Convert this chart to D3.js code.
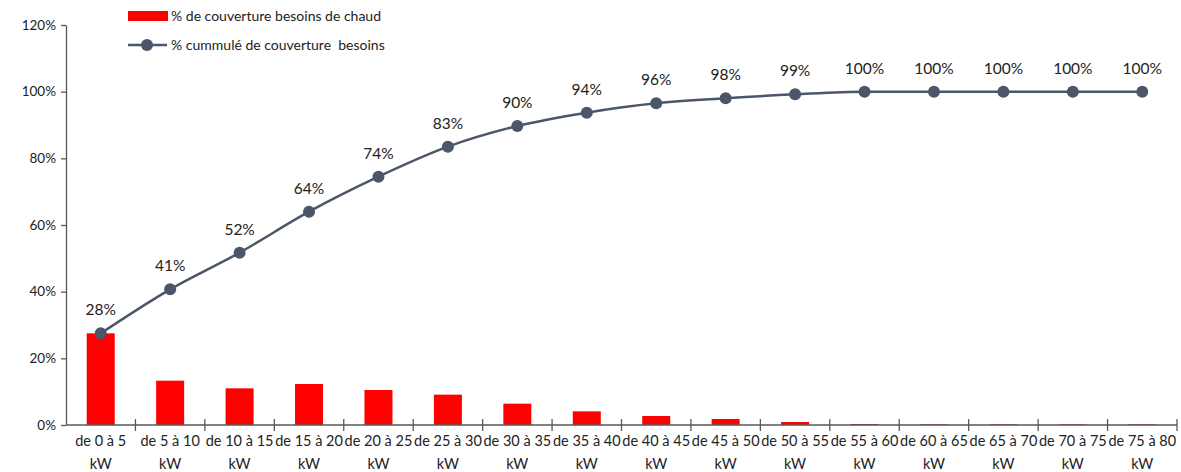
<!DOCTYPE html>
<html><head><meta charset="utf-8">
<script src="https://cdn.jsdelivr.net/npm/d3@7"></script>
<style>
body{margin:0;background:#fff;}
text{font-family:Lato,"Open Sans",sans-serif;fill:#222;}
</style></head>
<body><svg id="c" width="1181" height="472"></svg>
<script>
const categories = ["de 0 à 5","de 5 à 10","de 10 à 15","de 15 à 20","de 20 à 25","de 25 à 30","de 30 à 35","de 35 à 40","de 40 à 45","de 45 à 50","de 50 à 55","de 55 à 60","de 60 à 65","de 65 à 70","de 70 à 75","de 75 à 80"];
const unitLabel = "kW";
const barValues = [27.5, 13.3, 11.0, 12.3, 10.5, 9.1, 6.4, 4.1, 2.7, 1.8, 0.9, 0.3, 0.2, 0.2, 0.2, 0.2];
const cumValues = [27.5, 40.7, 51.7, 64.0, 74.5, 83.5, 89.7, 93.7, 96.5, 98.0, 99.2, 100, 100, 100, 100, 100];
const cumLabels = ["28%","41%","52%","64%","74%","83%","90%","94%","96%","98%","99%","100%","100%","100%","100%","100%"];
const yTicks = [0,20,40,60,80,100,120];
const seriesNames = ["% de couverture besoins de chaud","% cummulé de couverture  besoins"];

(function(){
const svg = d3.select("#c");
const mLeft = 66, mRight = 1177, mTop = 25, mBottom = 425;
const x = d3.scaleBand().domain(categories).range([mLeft,mRight]).paddingInner(0).paddingOuter(0);
const y = d3.scaleLinear().domain([0,120]).range([mBottom,mTop]);
const axisCol = "#595959", lineCol = "#4b5668";

// y axis
const ya = svg.append("g").attr("transform",`translate(${mLeft},0)`)
  .call(d3.axisLeft(y).tickValues(yTicks).tickFormat(d=>d+"%").tickSize(5).tickSizeOuter(0));
ya.select(".domain").attr("stroke",axisCol).attr("stroke-width",1.3);
ya.selectAll(".tick line").attr("stroke",axisCol).attr("stroke-width",1.3);
ya.selectAll(".tick text").attr("x",-10).style("font-size","13.5px").style("font-family","Lato,'Open Sans',sans-serif").attr("fill","#222");

// bars
svg.append("g").selectAll("rect").data(barValues).join("rect")
  .attr("x",(d,i)=>x(categories[i])+x.bandwidth()/2-14)
  .attr("width",28)
  .attr("y",d=>y(d))
  .attr("height",d=>mBottom-y(d))
  .attr("fill",(d,i)=> d<0.5 ? "#c02020" : "#ff0000");

// x axis
const xa = svg.append("g");
xa.append("line").attr("x1",mLeft).attr("x2",mRight).attr("y1",mBottom).attr("y2",mBottom).attr("stroke",axisCol).attr("stroke-width",1.3);
const bounds = categories.map(c=>x(c)).concat([mRight]);
xa.selectAll("line.t").data(bounds.slice(1)).join("line").attr("class","t")
  .attr("x1",d=>d).attr("x2",d=>d).attr("y1",mBottom-6).attr("y2",mBottom+6)
  .attr("stroke",axisCol).attr("stroke-width",1.3);
const xl = xa.selectAll("text").data(categories).join("text")
  .attr("text-anchor","middle").style("font-size","14.5px")
  .attr("transform",c=>`translate(${x(c)+x.bandwidth()/2},0)`);
xl.append("tspan").attr("x",0).attr("y",446).text(d=>d);
xl.append("tspan").attr("x",0).attr("y",469).text(unitLabel);

// line
const cx = (i)=>x(categories[i])+x.bandwidth()/2;
svg.append("path").datum(cumValues)
  .attr("d",d3.line().x((d,i)=>cx(i)).y(d=>y(d)).curve(d3.curveMonotoneX))
  .attr("fill","none").attr("stroke",lineCol).attr("stroke-width",2.5);
svg.append("g").selectAll("circle").data(cumValues).join("circle")
  .attr("cx",(d,i)=>cx(i)).attr("cy",d=>y(d)).attr("r",6).attr("fill",lineCol);
svg.append("g").selectAll("text").data(cumLabels).join("text")
  .attr("x",(d,i)=>cx(i)).attr("y",(d,i)=>y(cumValues[i])-18)
  .attr("text-anchor","middle").style("font-size","15.5px").text(d=>d);

// legend
const lg = svg.append("g");
lg.append("rect").attr("x",128).attr("y",11).attr("width",40).attr("height",10).attr("fill","#ff0000");
lg.append("text").attr("x",171).attr("y",21).style("font-size","14px").text(seriesNames[0]);
lg.append("line").attr("x1",128).attr("x2",167).attr("y1",45).attr("y2",45).attr("stroke",lineCol).attr("stroke-width",2.5);
lg.append("circle").attr("cx",147).attr("cy",45).attr("r",6).attr("fill",lineCol);
lg.append("text").attr("x",171).attr("y",50).style("font-size","14px").style("white-space","pre").text(seriesNames[1]);
})();
</script></body></html>
